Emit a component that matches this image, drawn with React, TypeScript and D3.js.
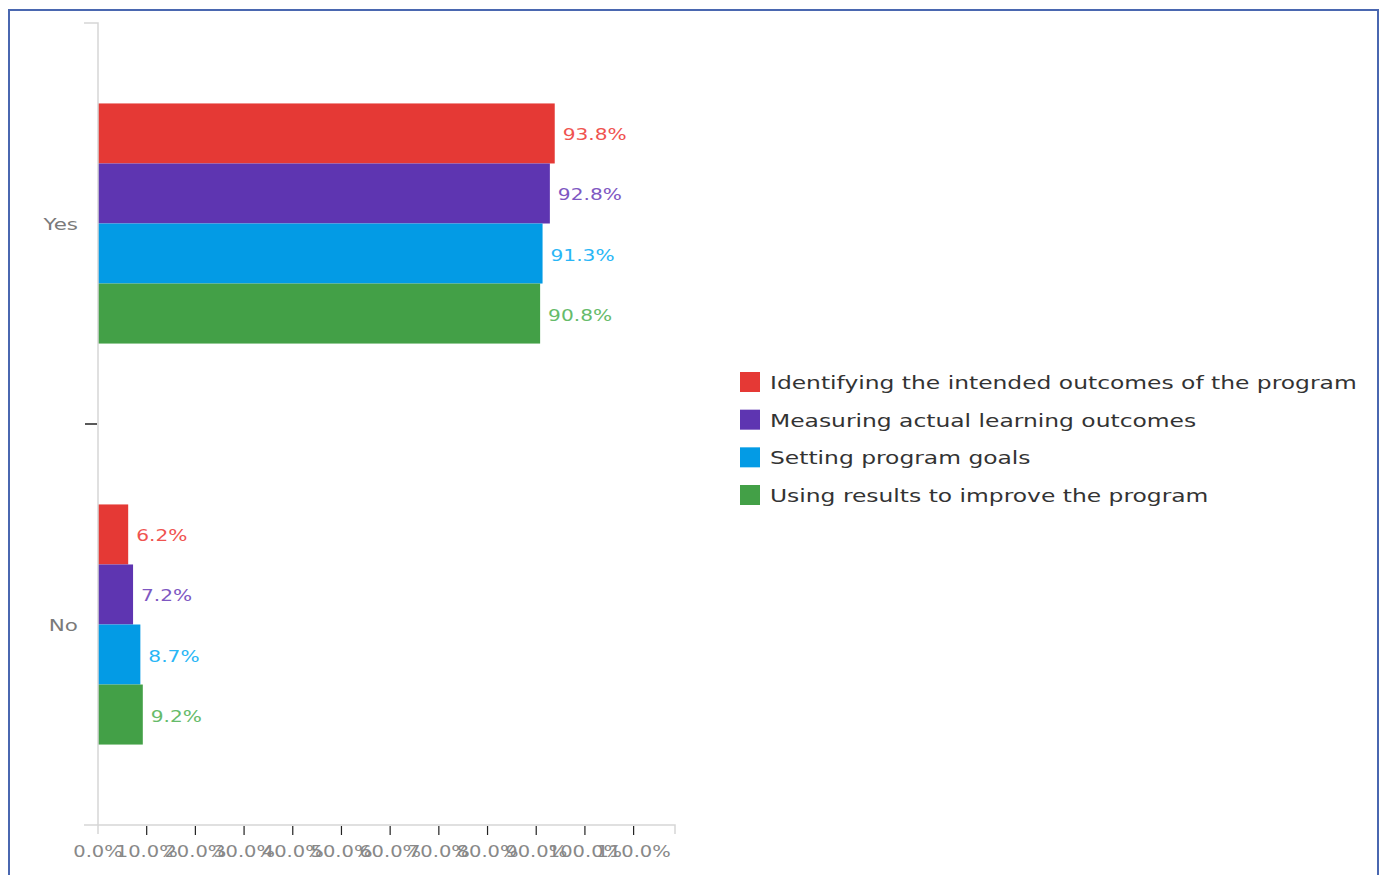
import React from "react";
import * as d3 from "d3";

const categories = ["Yes", "No"];
const seriesNames = [
  "Identifying the intended outcomes of the program",
  "Measuring actual learning outcomes",
  "Setting program goals",
  "Using results to improve the program",
];
const yesValues = [93.8, 92.8, 91.3, 90.8];
const noValues = [6.2, 7.2, 8.7, 9.2];
const xTicks = [0, 10, 20, 30, 40, 50, 60, 70, 80, 90, 100, 110];
const barColors = ["#e53935", "#5e35b1", "#039be5", "#43a047"];
const labelColors = ["#ef5350", "#7e57c2", "#29b6f6", "#66bb6a"];

const valuesByCategory: Record<string, number[]> = { Yes: yesValues, No: noValues };

const SX = 1.3; // horizontal stretch of glyphs seen in the reference
const FONT = "'DejaVu Sans', sans-serif";

function StretchText({ x, y, anchor = "start", size, fill, children }: any) {
  return (
    <g transform={`translate(${x},${y}) scale(${SX},1)`}>
      <text textAnchor={anchor} fontSize={size} fill={fill} fontFamily={FONT}>
        {children}
      </text>
    </g>
  );
}

export default function App() {
  const x = d3.scaleLinear().domain([0, 118.5]).range([98, 675]);
  const y = d3.scaleBand<string>().domain(categories).range([23, 825]).padding(0);
  const inner = d3
    .scaleBand<string>()
    .domain(seriesNames)
    .range([0, y.bandwidth()])
    .paddingInner(0)
    .paddingOuter(1.34);

  const legendY = d3.scalePoint<string>().domain(seriesNames).range([382, 495]);

  return (
    <svg
      width={1384}
      height={875}
      style={{ position: "absolute", left: 0, top: 0, background: "#fff" }}
    >
      <rect x={9} y={10} width={1369} height={900} fill="#fff" stroke="#4a67b0" strokeWidth={2} />

      {/* bars */}
      {categories.map((c) =>
        valuesByCategory[c].map((v, i) => {
          const by = (y(c) as number) + (inner(seriesNames[i]) as number);
          const bh = inner.bandwidth();
          return (
            <g key={c + i}>
              <rect x={x(0)} y={by} width={x(v) - x(0)} height={bh} fill={barColors[i]} />
              <StretchText x={x(v) + 8} y={by + bh / 2 + 7} size={15.5} fill={labelColors[i]}>
                {v.toFixed(1) + "%"}
              </StretchText>
            </g>
          );
        })
      )}

      {/* y axis */}
      <path
        d={`M84,${y.range()[0]}H${x(0)}V${y.range()[1]}H84`}
        fill="none"
        stroke="#d6d6d6"
        strokeWidth={1.5}
      />
      {categories.slice(1).map((c) => (
        <line key={c} x1={85} x2={97} y1={y(c)} y2={y(c)} stroke="#222" strokeWidth={1.5} />
      ))}
      {categories.map((c) => (
        <StretchText
          key={c}
          x={78}
          y={(y(c) as number) + y.bandwidth() / 2 + 6}
          anchor="end"
          size={16.5}
          fill="#7a7a7a"
        >
          {c}
        </StretchText>
      ))}

      {/* x axis */}
      <path
        d={`M${x(0)},834V825H${x.range()[1]}V834`}
        fill="none"
        stroke="#d6d6d6"
        strokeWidth={1.5}
      />
      {xTicks.slice(1).map((t) => (
        <line key={t} x1={x(t)} x2={x(t)} y1={826} y2={835} stroke="#222" strokeWidth={1.2} />
      ))}
      {xTicks.map((t) => (
        <StretchText key={t} x={x(t)} y={857} anchor="middle" size={15} fill="#888">
          {t.toFixed(1) + "%"}
        </StretchText>
      ))}

      {/* legend */}
      {seriesNames.map((s, i) => {
        const ly = legendY(s) as number;
        return (
          <g key={s}>
            <rect x={740} y={ly - 10} width={20} height={20} fill={barColors[i]} />
            <StretchText x={770} y={ly + 7} size={18} fill="#333">
              {s}
            </StretchText>
          </g>
        );
      })}
    </svg>
  );
}
